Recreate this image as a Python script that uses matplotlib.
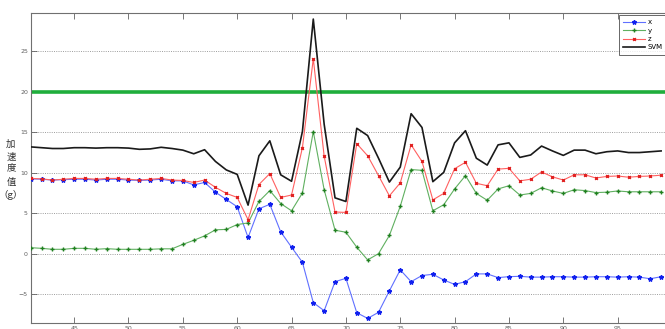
import matplotlib
matplotlib.use("Agg")
import matplotlib.pyplot as plt

samples = list(range(41, 100))
acc_x = [9.25, 9.2, 9.1, 9.15, 9.2, 9.2, 9.1, 9.2, 9.2, 9.1, 9.05, 9.1, 9.2, 9.0, 9.0,
         8.5, 8.8, 7.6, 6.7, 5.8, 2.0, 5.55, 6.1, 2.7, 0.8, -1.07, -6.05, -7.05, -3.46,
         -3.05, -7.3, -8.0, -7.25, -4.6, -2.0, -3.46, -2.7, -2.55, -3.25, -3.8, -3.46,
         -2.5, -2.5, -2.96, -2.84, -2.8, -2.9, -2.9, -2.85, -2.85, -2.9, -2.9, -2.85,
         -2.85, -2.9, -2.85, -2.9, -3.1, -2.85]
acc_y = [0.74, 0.66, 0.54, 0.54, 0.66, 0.66, 0.54, 0.62, 0.54, 0.54, 0.54, 0.54, 0.6, 0.6,
         1.15, 1.65, 2.2, 2.95, 3.0, 3.6, 3.8, 6.45, 7.8, 6.2, 5.3, 7.5, 15.1, 7.9, 2.9,
         2.65, 0.8, -0.77, 0.0, 2.25, 5.85, 10.4, 10.3, 5.3, 6.05, 8.0, 9.65, 7.45, 6.6,
         8.0, 8.4, 7.25, 7.45, 8.15, 7.75, 7.45, 7.9, 7.8, 7.55, 7.6, 7.75, 7.65, 7.65,
         7.65, 7.65]
acc_z = [9.3, 9.25, 9.1, 9.2, 9.3, 9.3, 9.2, 9.3, 9.3, 9.2, 9.1, 9.2, 9.3, 9.1, 9.05,
         8.8, 9.1, 8.2, 7.45, 6.95, 4.2, 8.55, 9.9, 6.95, 7.25, 13.1, 24.1, 12.05, 5.15,
         5.1, 13.6, 12.1, 9.65, 7.15, 8.75, 13.45, 11.4, 6.65, 7.45, 10.5, 11.3, 8.7, 8.4,
         10.45, 10.55, 9.0, 9.2, 10.1, 9.5, 9.1, 9.75, 9.75, 9.35, 9.55, 9.6, 9.45, 9.55,
         9.6, 9.7]
svm = [13.2, 13.1, 13.0, 13.0, 13.1, 13.1, 13.05, 13.1, 13.1, 13.05, 12.9, 12.95, 13.15,
       13.0, 12.8, 12.35, 12.85, 11.4, 10.35, 9.8, 6.0, 12.1, 13.95, 9.75, 8.95, 15.1,
       29.0, 16.0, 6.9, 6.45, 15.5, 14.6, 11.8, 8.85, 10.7, 17.3, 15.6, 8.9, 10.05, 13.7,
       15.2, 11.8, 10.95, 13.45, 13.7, 11.9, 12.2, 13.3, 12.7, 12.15, 12.8, 12.8, 12.35,
       12.6, 12.7, 12.5, 12.5, 12.6, 12.7]
threshold = 20
labels = ["x", "y", "z", "SVM"]
ylabel_chars = ["加", "速", "度", "值", "（g）"]

fig = plt.figure(figsize=(6.65, 3.29), dpi=100)
ax = fig.add_axes([30.67 / 665, 6 / 329, (672 - 30.67) / 665, (323 - 13) / 329])

ax.axhline(threshold, color="#1fae3c", lw=2.6, zorder=1)
ax.plot(samples, acc_x, color="#6070ff", lw=0.8, marker="*", ms=3.2,
        mfc="#1020ee", mec="#1020ee", label=labels[0], zorder=3)
ax.plot(samples, acc_y, color="#60b060", lw=0.8, marker="+", ms=3.5,
        mec="#208020", label=labels[1], zorder=3)
ax.plot(samples, acc_z, color="#ff6060", lw=0.8, marker="x", ms=2.0,
        mec="#e02020", label=labels[2], zorder=3)
ax.plot(samples, svm, color="#1a1a1a", lw=1.2, label=labels[3], zorder=4)

ax.set_xlim(41, 100)
ax.set_ylim(-8.57, 29.75)
ax.set_xticks(range(45, 100, 5))
ax.set_yticks(range(-5, 30, 5))
ax.yaxis.grid(True, linestyle=(0, (1.2, 1.5)), color="#909090", lw=0.6)
ax.set_axisbelow(True)
ax.tick_params(direction="in", top=True, right=True, length=4, width=0.6,
               colors="#606060", labelsize=4.5, pad=2)
for s in ax.spines.values():
    s.set_color("#707070")
    s.set_linewidth(0.8)

char_y = [144, 157, 169, 182, 195]
for ch, yy in zip(ylabel_chars, char_y):
    fig.text(11 / 665, 1 - yy / 329, ch,
             family=["Noto Sans CJK SC", "DejaVu Sans"], fontsize=6.8, color="#303030",
             ha="center", va="center")

leg = ax.legend(loc="upper left", bbox_to_anchor=(619 / 665, 1 - 15 / 329),
                bbox_transform=fig.transFigure, fontsize=5, numpoints=1,
                frameon=True, fancybox=False, edgecolor="#404040",
                handlelength=3.2, borderpad=0.6, labelspacing=0.35,
                handletextpad=0.3, borderaxespad=0.0)
leg.get_frame().set_linewidth(0.7)

fig.savefig("out.png", dpi=100)
